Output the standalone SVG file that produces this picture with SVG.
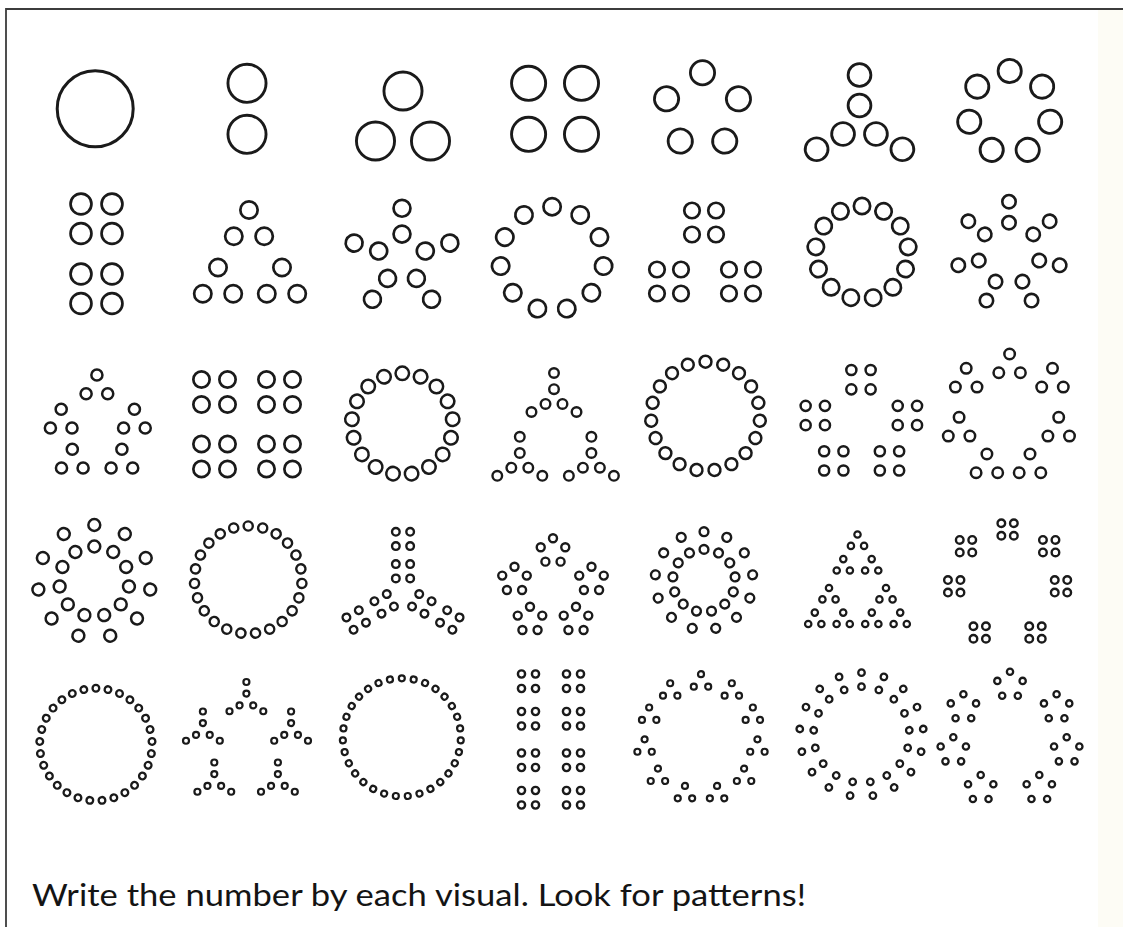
<svg xmlns="http://www.w3.org/2000/svg" width="1123" height="927" viewBox="0 0 1123 927">
<style>
.fig{fill:none;stroke:#1a1a1a}
.frame{fill:none;stroke:#3c3c3c;stroke-width:1.8}
.cap{font-family:Lato,"Open Sans","Liberation Sans",sans-serif;font-size:31px;fill:#141414}
</style>
<defs>
<circle id="c5" cy="-37.8" r="12.1"/>
<g id="p6"><circle cy="-19" r="11.4"/><circle cy="-49.5" r="11.4"/></g>
<circle id="c7" cy="-41.5" r="11.6"/>
<g id="t9"><circle cy="-17.5" r="8.65"/><circle cx="-15.2" cy="8.75" r="8.65"/><circle cx="15.2" cy="8.75" r="8.65"/></g>
<g id="p10"><circle cy="-24.5" r="8.45"/><circle cy="-50.3" r="8.45"/></g>
<circle id="c11" cy="-52" r="8.65"/>
<g id="s12"><circle cx="-12" cy="-12" r="7.75"/><circle cx="12" cy="-12" r="7.75"/><circle cx="-12" cy="12" r="7.75"/><circle cx="12" cy="12" r="7.75"/></g>
<circle id="c13" cy="-46.5" r="8.15"/>
<g id="p14"><circle cy="-31" r="6.7"/><circle cy="-52" r="6.7"/></g>
<g id="t15"><circle cy="-12.5" r="5.55"/><circle cx="-10.8" cy="6.25" r="5.55"/><circle cx="10.8" cy="6.25" r="5.55"/></g>
<circle id="c17" cy="-50.6" r="6.75"/>
<g id="h18"><circle cy="-26" r="4.8"/><circle cy="-9.8" r="4.8"/><circle cx="-8.49" cy="4.9" r="4.8"/><circle cx="8.49" cy="4.9" r="4.8"/><circle cx="-22.52" cy="13" r="4.8"/><circle cx="22.52" cy="13" r="4.8"/></g>
<circle id="c19" cy="-54.5" r="5.95"/>
<g id="s20"><circle cx="-9.65" cy="-9.65" r="5.05"/><circle cx="9.65" cy="-9.65" r="5.05"/><circle cx="-9.65" cy="9.65" r="5.05"/><circle cx="9.65" cy="9.65" r="5.05"/></g>
<g id="t21"><circle cy="-12.5" r="5.25"/><circle cx="-10.8" cy="6.25" r="5.25"/><circle cx="10.8" cy="6.25" r="5.25"/></g>
<g id="p22"><circle cy="-35" r="5.95"/><circle cy="-56.5" r="5.95"/></g>
<circle id="c23" cy="-53.8" r="4.6"/>
<g id="a24"><circle cx="-7.15" cy="-14.6" r="3.8"/><circle cx="7.15" cy="-14.6" r="3.8"/><circle cx="-7.15" cy="-28.9" r="3.8"/><circle cx="7.15" cy="-28.9" r="3.8"/><circle cx="-7.15" cy="-46.9" r="3.8"/><circle cx="7.15" cy="-46.9" r="3.8"/><circle cx="-7.15" cy="-61.2" r="3.8"/><circle cx="7.15" cy="-61.2" r="3.8"/></g>
<g id="q25"><circle cy="-12.9" r="4"/><circle cx="12.27" cy="-3.99" r="4"/><circle cx="7.58" cy="10.44" r="4"/><circle cx="-7.58" cy="10.44" r="4"/><circle cx="-12.27" cy="-3.99" r="4"/></g>
<g id="p26"><circle cy="-31.3" r="4.4"/><circle cy="-49" r="4.4"/></g>
<g id="t27a"><circle cy="-7.6" r="3.2"/><circle cx="-6.58" cy="3.8" r="3.2"/><circle cx="6.58" cy="3.8" r="3.2"/></g>
<g id="t27b"><use href="#t27a" y="-16.4"/><use href="#t27a" x="-14.2" y="8.2"/><use href="#t27a" x="14.2" y="8.2"/></g>
<g id="s28"><circle cx="-6.25" cy="-6.25" r="3.8"/><circle cx="6.25" cy="-6.25" r="3.8"/><circle cx="-6.25" cy="6.25" r="3.8"/><circle cx="6.25" cy="6.25" r="3.8"/></g>
<circle id="c29" cy="-56.2" r="3.35"/>
<g id="h30"><circle cy="-19.5" r="3"/><circle cy="-7.9" r="3"/><circle cx="-6.84" cy="3.95" r="3"/><circle cx="6.84" cy="3.95" r="3"/><circle cx="-16.89" cy="9.75" r="3"/><circle cx="16.89" cy="9.75" r="3"/></g>
<circle id="c31" cy="-59" r="3"/>
<g id="r32"><circle cx="521.5" r="3.6"/><circle cx="535.5" r="3.6"/><circle cx="566.5" r="3.6"/><circle cx="580.5" r="3.6"/></g>
<g id="t33"><circle cy="-8.3" r="3"/><circle cx="-7.19" cy="4.15" r="3"/><circle cx="7.19" cy="4.15" r="3"/></g>
<g id="p34"><circle cy="-48" r="3.25"/><circle cy="-62" r="3.25"/></g>
<g id="q35"><circle cy="-13.3" r="3.15"/><circle cx="12.65" cy="-4.11" r="3.15"/><circle cx="7.82" cy="10.76" r="3.15"/><circle cx="-7.82" cy="10.76" r="3.15"/><circle cx="-12.65" cy="-4.11" r="3.15"/></g>
</defs>
<rect width="1123" height="927" fill="#ffffff"/>
<rect x="1098" y="10" width="25" height="917" fill="#fdfcf5"/>
<path class="frame" d="M6,927V9H1123"/>

<g id="n1" class="fig" style="stroke-width:3"><circle cx="95.2" cy="108.7" r="38"/></g>
<g id="n2" class="fig" style="stroke-width:2.9"><circle cx="247" cy="83.3" r="19.05"/><circle cx="247" cy="134.3" r="19.05"/></g>
<g id="n3" class="fig" style="stroke-width:2.9"><circle cx="403" cy="91" r="19.05"/><circle cx="375.5" cy="141" r="19.05"/><circle cx="430.5" cy="141" r="19.05"/></g>
<g id="n4" class="fig" style="stroke-width:2.9"><circle cx="528.6" cy="83.3" r="17.05"/><circle cx="581.5" cy="83.3" r="17.05"/><circle cx="528.6" cy="134.3" r="17.05"/><circle cx="581.5" cy="134.3" r="17.05"/></g>
<g id="n5" class="fig" style="stroke-width:2.8" transform="translate(702.5,110.5)"><use href="#c5"/><use href="#c5" transform="rotate(72)"/><use href="#c5" transform="rotate(144)"/><use href="#c5" transform="rotate(216)"/><use href="#c5" transform="rotate(288)"/></g>
<g id="n6" class="fig" style="stroke-width:2.8" transform="translate(859.5,124.5)"><use href="#p6"/><use href="#p6" transform="rotate(120)"/><use href="#p6" transform="rotate(240)"/></g>
<g id="n7" class="fig" style="stroke-width:2.8" transform="translate(1009.7,112.5)"><use href="#c7"/><use href="#c7" transform="rotate(51.43)"/><use href="#c7" transform="rotate(102.86)"/><use href="#c7" transform="rotate(154.29)"/><use href="#c7" transform="rotate(205.71)"/><use href="#c7" transform="rotate(257.14)"/><use href="#c7" transform="rotate(308.57)"/></g>

<g id="n8" class="fig" style="stroke-width:2.7"><circle cx="81" cy="204" r="10.45"/><circle cx="112" cy="204" r="10.45"/><circle cx="81" cy="233.5" r="10.45"/><circle cx="112" cy="233.5" r="10.45"/><circle cx="81" cy="274" r="10.45"/><circle cx="112" cy="274" r="10.45"/><circle cx="81" cy="303.5" r="10.45"/><circle cx="112" cy="303.5" r="10.45"/></g>
<g id="n9" class="fig" style="stroke-width:2.7"><use href="#t9" x="249" y="227.5"/><use href="#t9" x="218" y="285"/><use href="#t9" x="282" y="285"/></g>
<g id="n10" class="fig" style="stroke-width:2.7" transform="translate(402,258.6)"><use href="#p10"/><use href="#p10" transform="rotate(72)"/><use href="#p10" transform="rotate(144)"/><use href="#p10" transform="rotate(216)"/><use href="#p10" transform="rotate(288)"/></g>
<g id="n11" class="fig" style="stroke-width:2.7" transform="translate(552.1,258.7)"><use href="#c11"/><use href="#c11" transform="rotate(32.73)"/><use href="#c11" transform="rotate(65.45)"/><use href="#c11" transform="rotate(98.18)"/><use href="#c11" transform="rotate(130.91)"/><use href="#c11" transform="rotate(163.64)"/><use href="#c11" transform="rotate(196.36)"/><use href="#c11" transform="rotate(229.09)"/><use href="#c11" transform="rotate(261.82)"/><use href="#c11" transform="rotate(294.55)"/><use href="#c11" transform="rotate(327.27)"/></g>
<g id="n12" class="fig" style="stroke-width:2.7"><use href="#s12" x="704" y="222.5"/><use href="#s12" x="669" y="281.5"/><use href="#s12" x="741" y="281.5"/></g>
<g id="n13" class="fig" style="stroke-width:2.7" transform="translate(862,252.5)"><use href="#c13"/><use href="#c13" transform="rotate(27.69)"/><use href="#c13" transform="rotate(55.38)"/><use href="#c13" transform="rotate(83.08)"/><use href="#c13" transform="rotate(110.77)"/><use href="#c13" transform="rotate(138.46)"/><use href="#c13" transform="rotate(166.15)"/><use href="#c13" transform="rotate(193.85)"/><use href="#c13" transform="rotate(221.54)"/><use href="#c13" transform="rotate(249.23)"/><use href="#c13" transform="rotate(276.92)"/><use href="#c13" transform="rotate(304.62)"/><use href="#c13" transform="rotate(332.31)"/></g>
<g id="n14" class="fig" style="stroke-width:2.6" transform="translate(1009,253.7)"><use href="#p14"/><use href="#p14" transform="rotate(51.43)"/><use href="#p14" transform="rotate(102.86)"/><use href="#p14" transform="rotate(154.29)"/><use href="#p14" transform="rotate(205.71)"/><use href="#p14" transform="rotate(257.14)"/><use href="#p14" transform="rotate(308.57)"/></g>

<g id="n15" class="fig" style="stroke-width:2.5"><use href="#t15" x="96.9" y="387.5"/><use href="#t15" x="61.2" y="421.8"/><use href="#t15" x="134.4" y="421.8"/><use href="#t15" x="72.3" y="461.8"/><use href="#t15" x="121.9" y="461.8"/></g>
<g id="n16" class="fig" style="stroke-width:2.7"><circle cx="201.5" cy="379.5" r="8.15"/><circle cx="227.5" cy="379.5" r="8.15"/><circle cx="266.5" cy="379.5" r="8.15"/><circle cx="292.5" cy="379.5" r="8.15"/><circle cx="201.5" cy="404.5" r="8.15"/><circle cx="227.5" cy="404.5" r="8.15"/><circle cx="266.5" cy="404.5" r="8.15"/><circle cx="292.5" cy="404.5" r="8.15"/><circle cx="201.5" cy="444" r="8.15"/><circle cx="227.5" cy="444" r="8.15"/><circle cx="266.5" cy="444" r="8.15"/><circle cx="292.5" cy="444" r="8.15"/><circle cx="201.5" cy="469" r="8.15"/><circle cx="227.5" cy="469" r="8.15"/><circle cx="266.5" cy="469" r="8.15"/><circle cx="292.5" cy="469" r="8.15"/></g>
<g id="n17" class="fig" style="stroke-width:2.5" transform="translate(402.3,423.9)"><use href="#c17"/><use href="#c17" transform="rotate(21.18)"/><use href="#c17" transform="rotate(42.35)"/><use href="#c17" transform="rotate(63.53)"/><use href="#c17" transform="rotate(84.71)"/><use href="#c17" transform="rotate(105.88)"/><use href="#c17" transform="rotate(127.06)"/><use href="#c17" transform="rotate(148.24)"/><use href="#c17" transform="rotate(169.41)"/><use href="#c17" transform="rotate(190.59)"/><use href="#c17" transform="rotate(211.76)"/><use href="#c17" transform="rotate(232.94)"/><use href="#c17" transform="rotate(254.12)"/><use href="#c17" transform="rotate(275.29)"/><use href="#c17" transform="rotate(296.47)"/><use href="#c17" transform="rotate(317.65)"/><use href="#c17" transform="rotate(338.82)"/></g>
<g id="n18" class="fig" style="stroke-width:2.4"><use href="#h18" x="554" y="399"/><use href="#h18" x="519.8" y="462.8"/><use href="#h18" x="591.4" y="462.8"/></g>
<g id="n19" class="fig" style="stroke-width:2.5" transform="translate(705.5,416.2)"><use href="#c19"/><use href="#c19" transform="rotate(18.95)"/><use href="#c19" transform="rotate(37.89)"/><use href="#c19" transform="rotate(56.84)"/><use href="#c19" transform="rotate(75.79)"/><use href="#c19" transform="rotate(94.74)"/><use href="#c19" transform="rotate(113.68)"/><use href="#c19" transform="rotate(132.63)"/><use href="#c19" transform="rotate(151.58)"/><use href="#c19" transform="rotate(170.53)"/><use href="#c19" transform="rotate(189.47)"/><use href="#c19" transform="rotate(208.42)"/><use href="#c19" transform="rotate(227.37)"/><use href="#c19" transform="rotate(246.32)"/><use href="#c19" transform="rotate(265.26)"/><use href="#c19" transform="rotate(284.21)"/><use href="#c19" transform="rotate(303.16)"/><use href="#c19" transform="rotate(322.11)"/><use href="#c19" transform="rotate(341.05)"/></g>
<g id="n20" class="fig" style="stroke-width:2.5"><use href="#s20" x="861" y="379.7"/><use href="#s20" x="815.3" y="415.5"/><use href="#s20" x="907.4" y="415.5"/><use href="#s20" x="833.8" y="460.9"/><use href="#s20" x="889.5" y="460.9"/></g>
<g id="n21" class="fig" style="stroke-width:2.5"><use href="#t21" x="1009.6" y="366.5"/><use href="#t21" x="966.2" y="380.8"/><use href="#t21" x="1052.5" y="380.8"/><use href="#t21" x="959.1" y="429.8"/><use href="#t21" x="1058.7" y="429.8"/><use href="#t21" x="986.9" y="466.5"/><use href="#t21" x="1030" y="466.5"/></g>

<g id="n22" class="fig" style="stroke-width:2.5" transform="translate(94.3,581.5)"><use href="#p22"/><use href="#p22" transform="rotate(32.73)"/><use href="#p22" transform="rotate(65.45)"/><use href="#p22" transform="rotate(98.18)"/><use href="#p22" transform="rotate(130.91)"/><use href="#p22" transform="rotate(163.64)"/><use href="#p22" transform="rotate(196.36)"/><use href="#p22" transform="rotate(229.09)"/><use href="#p22" transform="rotate(261.82)"/><use href="#p22" transform="rotate(294.55)"/><use href="#p22" transform="rotate(327.27)"/></g>
<g id="n23" class="fig" style="stroke-width:2.4" transform="translate(248.2,579.8)"><use href="#c23"/><use href="#c23" transform="rotate(15.65)"/><use href="#c23" transform="rotate(31.30)"/><use href="#c23" transform="rotate(46.96)"/><use href="#c23" transform="rotate(62.61)"/><use href="#c23" transform="rotate(78.26)"/><use href="#c23" transform="rotate(93.91)"/><use href="#c23" transform="rotate(109.57)"/><use href="#c23" transform="rotate(125.22)"/><use href="#c23" transform="rotate(140.87)"/><use href="#c23" transform="rotate(156.52)"/><use href="#c23" transform="rotate(172.17)"/><use href="#c23" transform="rotate(187.83)"/><use href="#c23" transform="rotate(203.48)"/><use href="#c23" transform="rotate(219.13)"/><use href="#c23" transform="rotate(234.78)"/><use href="#c23" transform="rotate(250.43)"/><use href="#c23" transform="rotate(266.09)"/><use href="#c23" transform="rotate(281.74)"/><use href="#c23" transform="rotate(297.39)"/><use href="#c23" transform="rotate(313.04)"/><use href="#c23" transform="rotate(328.70)"/><use href="#c23" transform="rotate(344.35)"/></g>
<g id="n24" class="fig" style="stroke-width:2.4" transform="translate(403,593)"><use href="#a24"/><use href="#a24" transform="rotate(120)"/><use href="#a24" transform="rotate(240)"/></g>
<g id="n25" class="fig" style="stroke-width:2.4"><use href="#q25" x="553" y="551.2"/><use href="#q25" x="514.5" y="579.6"/><use href="#q25" x="591.5" y="579.6"/><use href="#q25" x="530" y="619.6"/><use href="#q25" x="576" y="619.6"/></g>
<g id="n26" class="fig" style="stroke-width:2.4" transform="translate(704,580.7)"><use href="#p26"/><use href="#p26" transform="rotate(27.69)"/><use href="#p26" transform="rotate(55.38)"/><use href="#p26" transform="rotate(83.08)"/><use href="#p26" transform="rotate(110.77)"/><use href="#p26" transform="rotate(138.46)"/><use href="#p26" transform="rotate(166.15)"/><use href="#p26" transform="rotate(193.85)"/><use href="#p26" transform="rotate(221.54)"/><use href="#p26" transform="rotate(249.23)"/><use href="#p26" transform="rotate(276.92)"/><use href="#p26" transform="rotate(304.62)"/><use href="#p26" transform="rotate(332.31)"/></g>
<g id="n27" class="fig" style="stroke-width:2.2"><use href="#t27b" x="857.5" y="558.5"/><use href="#t27b" x="829" y="612"/><use href="#t27b" x="886" y="612"/></g>
<g id="n28" class="fig" style="stroke-width:2.4"><use href="#s28" x="1007.6" y="529.5"/><use href="#s28" x="966" y="546.2"/><use href="#s28" x="1049.2" y="546.2"/><use href="#s28" x="954.2" y="586.3"/><use href="#s28" x="1061" y="586.3"/><use href="#s28" x="979.7" y="632.5"/><use href="#s28" x="1035.5" y="632.5"/></g>

<g id="n29" class="fig" style="stroke-width:2.3" transform="translate(95.9,744.5)"><use href="#c29"/><use href="#c29" transform="rotate(12.41)"/><use href="#c29" transform="rotate(24.83)"/><use href="#c29" transform="rotate(37.24)"/><use href="#c29" transform="rotate(49.66)"/><use href="#c29" transform="rotate(62.07)"/><use href="#c29" transform="rotate(74.48)"/><use href="#c29" transform="rotate(86.90)"/><use href="#c29" transform="rotate(99.31)"/><use href="#c29" transform="rotate(111.72)"/><use href="#c29" transform="rotate(124.14)"/><use href="#c29" transform="rotate(136.55)"/><use href="#c29" transform="rotate(148.97)"/><use href="#c29" transform="rotate(161.38)"/><use href="#c29" transform="rotate(173.79)"/><use href="#c29" transform="rotate(186.21)"/><use href="#c29" transform="rotate(198.62)"/><use href="#c29" transform="rotate(211.03)"/><use href="#c29" transform="rotate(223.45)"/><use href="#c29" transform="rotate(235.86)"/><use href="#c29" transform="rotate(248.28)"/><use href="#c29" transform="rotate(260.69)"/><use href="#c29" transform="rotate(273.10)"/><use href="#c29" transform="rotate(285.52)"/><use href="#c29" transform="rotate(297.93)"/><use href="#c29" transform="rotate(310.34)"/><use href="#c29" transform="rotate(322.76)"/><use href="#c29" transform="rotate(335.17)"/><use href="#c29" transform="rotate(347.59)"/></g>
<g id="n30" class="fig" style="stroke-width:2.2"><use href="#h30" x="246.4" y="701.5"/><use href="#h30" x="202.9" y="731"/><use href="#h30" x="291.1" y="731"/><use href="#h30" x="214.3" y="782"/><use href="#h30" x="277.9" y="782"/></g>
<g id="n31" class="fig" style="stroke-width:2.2" transform="translate(401.8,737.3)"><use href="#c31"/><use href="#c31" transform="rotate(11.61)"/><use href="#c31" transform="rotate(23.23)"/><use href="#c31" transform="rotate(34.84)"/><use href="#c31" transform="rotate(46.45)"/><use href="#c31" transform="rotate(58.06)"/><use href="#c31" transform="rotate(69.68)"/><use href="#c31" transform="rotate(81.29)"/><use href="#c31" transform="rotate(92.90)"/><use href="#c31" transform="rotate(104.52)"/><use href="#c31" transform="rotate(116.13)"/><use href="#c31" transform="rotate(127.74)"/><use href="#c31" transform="rotate(139.35)"/><use href="#c31" transform="rotate(150.97)"/><use href="#c31" transform="rotate(162.58)"/><use href="#c31" transform="rotate(174.19)"/><use href="#c31" transform="rotate(185.81)"/><use href="#c31" transform="rotate(197.42)"/><use href="#c31" transform="rotate(209.03)"/><use href="#c31" transform="rotate(220.65)"/><use href="#c31" transform="rotate(232.26)"/><use href="#c31" transform="rotate(243.87)"/><use href="#c31" transform="rotate(255.48)"/><use href="#c31" transform="rotate(267.10)"/><use href="#c31" transform="rotate(278.71)"/><use href="#c31" transform="rotate(290.32)"/><use href="#c31" transform="rotate(301.94)"/><use href="#c31" transform="rotate(313.55)"/><use href="#c31" transform="rotate(325.16)"/><use href="#c31" transform="rotate(336.77)"/><use href="#c31" transform="rotate(348.39)"/></g>
<g id="n32" class="fig" style="stroke-width:2.4"><use href="#r32" y="674"/><use href="#r32" y="688.5"/><use href="#r32" y="711.5"/><use href="#r32" y="726"/><use href="#r32" y="753"/><use href="#r32" y="767.5"/><use href="#r32" y="790.5"/><use href="#r32" y="805"/></g>
<g id="n33" class="fig" style="stroke-width:2.2" transform="translate(701,739.5)"><use href="#t33" transform="translate(0,-57)"/><use href="#t33" transform="rotate(32.73) translate(0,-57) rotate(-32.73)"/><use href="#t33" transform="rotate(65.45) translate(0,-57) rotate(-65.45)"/><use href="#t33" transform="rotate(98.18) translate(0,-57) rotate(-98.18)"/><use href="#t33" transform="rotate(130.91) translate(0,-57) rotate(-130.91)"/><use href="#t33" transform="rotate(163.64) translate(0,-57) rotate(-163.64)"/><use href="#t33" transform="rotate(196.36) translate(0,-57) rotate(-196.36)"/><use href="#t33" transform="rotate(229.09) translate(0,-57) rotate(-229.09)"/><use href="#t33" transform="rotate(261.82) translate(0,-57) rotate(-261.82)"/><use href="#t33" transform="rotate(294.55) translate(0,-57) rotate(-294.55)"/><use href="#t33" transform="rotate(327.27) translate(0,-57) rotate(-327.27)"/></g>
<g id="n34" class="fig" style="stroke-width:2.3" transform="translate(861.5,734.7)"><use href="#p34"/><use href="#p34" transform="rotate(21.18)"/><use href="#p34" transform="rotate(42.35)"/><use href="#p34" transform="rotate(63.53)"/><use href="#p34" transform="rotate(84.71)"/><use href="#p34" transform="rotate(105.88)"/><use href="#p34" transform="rotate(127.06)"/><use href="#p34" transform="rotate(148.24)"/><use href="#p34" transform="rotate(169.41)"/><use href="#p34" transform="rotate(190.59)"/><use href="#p34" transform="rotate(211.76)"/><use href="#p34" transform="rotate(232.94)"/><use href="#p34" transform="rotate(254.12)"/><use href="#p34" transform="rotate(275.29)"/><use href="#p34" transform="rotate(296.47)"/><use href="#p34" transform="rotate(317.65)"/><use href="#p34" transform="rotate(338.82)"/></g>
<g id="n35" class="fig" style="stroke-width:2.3"><use href="#q35" x="1010" y="685"/><use href="#q35" x="963.4" y="707.5"/><use href="#q35" x="1056.6" y="707.5"/><use href="#q35" x="953.3" y="750.6"/><use href="#q35" x="1066.7" y="750.6"/><use href="#q35" x="980.7" y="788.3"/><use href="#q35" x="1039.3" y="788.3"/></g>

<text id="caption" class="cap" x="32" y="906" textLength="774" lengthAdjust="spacingAndGlyphs">Write the number by each visual. Look for patterns!</text>
</svg>
